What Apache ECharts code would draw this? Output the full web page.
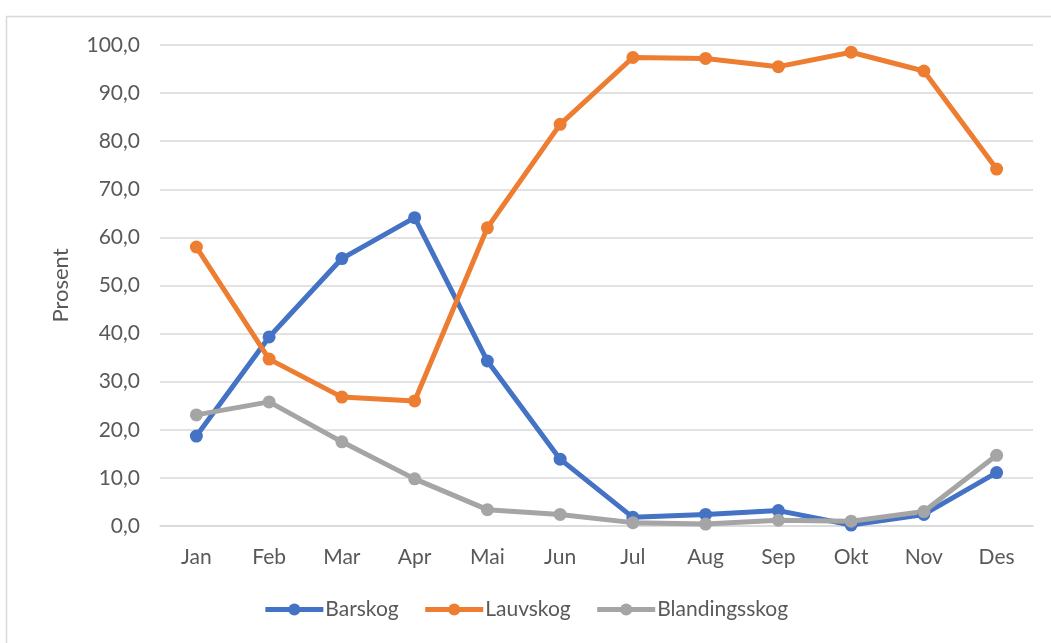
<!DOCTYPE html>
<html>
<head>
<meta charset="utf-8">
<script src="https://cdn.jsdelivr.net/npm/echarts@6/dist/echarts.min.js"></script>
<style>
  html, body { margin: 0; padding: 0; background: #fff; }
  #chart { width: 1051px; height: 643px; }
</style>
</head>
<body>
<div id="chart"></div>
<script>
// Monthly share (%) per forest type
const months = ['Jan', 'Feb', 'Mar', 'Apr', 'Mai', 'Jun', 'Jul', 'Aug', 'Sep', 'Okt', 'Nov', 'Des'];
const barskog = [18.7, 39.3, 55.6, 64.1, 34.3, 13.9, 1.8, 2.4, 3.2, 0.2, 2.4, 11.1];
const lauvskog = [58.0, 34.7, 26.8, 26.0, 62.0, 83.5, 97.4, 97.2, 95.5, 98.5, 94.6, 74.2];
const blandingsskog = [23.1, 25.8, 17.5, 9.8, 3.4, 2.4, 0.7, 0.4, 1.2, 1.0, 3.0, 14.7];
const yTicks = { min: 0, max: 100, interval: 10 };

const font = 'Lato, "Open Sans", sans-serif';
const textColor = '#595959';
const fmt = v => v.toFixed(1).replace('.', ',');

function lineSeries(name, data, color) {
  return {
    name, type: 'line', data,
    symbol: 'circle', symbolSize: 13,
    lineStyle: { color, width: 5 },
    itemStyle: { color },
    emphasis: { disabled: true },
    z: 3
  };
}

const chart = echarts.init(document.getElementById('chart'), null, { renderer: 'canvas' });
chart.setOption({
  animation: false,
  backgroundColor: '#fff',
  textStyle: { fontFamily: font },
  graphic: [{
    type: 'rect', left: 4, top: 14, silent: true, z: -1,
    shape: { width: 1200, height: 800 },
    style: { fill: 'none', stroke: '#d9d9d9', lineWidth: 1.5 }
  }],
  grid: { left: 160, right: 18, top: 45, bottom: 117 },
  legend: {
    bottom: 18, left: 'center',
    itemWidth: 58, itemHeight: 15, itemGap: 24,
    lineStyle: { width: 5 },
    textStyle: { color: textColor, fontSize: 21, fontFamily: font, padding: [0, 0, 0, -3] },
    data: ['Barskog', 'Lauvskog', 'Blandingsskog']
  },
  xAxis: {
    type: 'category', data: months, boundaryGap: true,
    axisLine: { lineStyle: { color: '#d9d9d9', width: 1.5 } },
    axisTick: { show: false },
    axisLabel: { color: textColor, fontSize: 21, margin: 21 }
  },
  yAxis: {
    type: 'value', min: yTicks.min, max: yTicks.max, interval: yTicks.interval,
    name: 'Prosent', nameLocation: 'middle', nameGap: 88, nameRotate: 90,
    nameTextStyle: { color: textColor, fontSize: 22 },
    axisLine: { show: false }, axisTick: { show: false },
    axisLabel: { color: textColor, fontSize: 21, margin: 20, formatter: fmt },
    splitLine: { lineStyle: { color: '#d9d9d9', width: 1.5 } }
  },
  series: [
    lineSeries('Barskog', barskog, '#4472C4'),
    lineSeries('Lauvskog', lauvskog, '#ED7D31'),
    lineSeries('Blandingsskog', blandingsskog, '#A5A5A5')
  ]
});
</script>
</body>
</html>
